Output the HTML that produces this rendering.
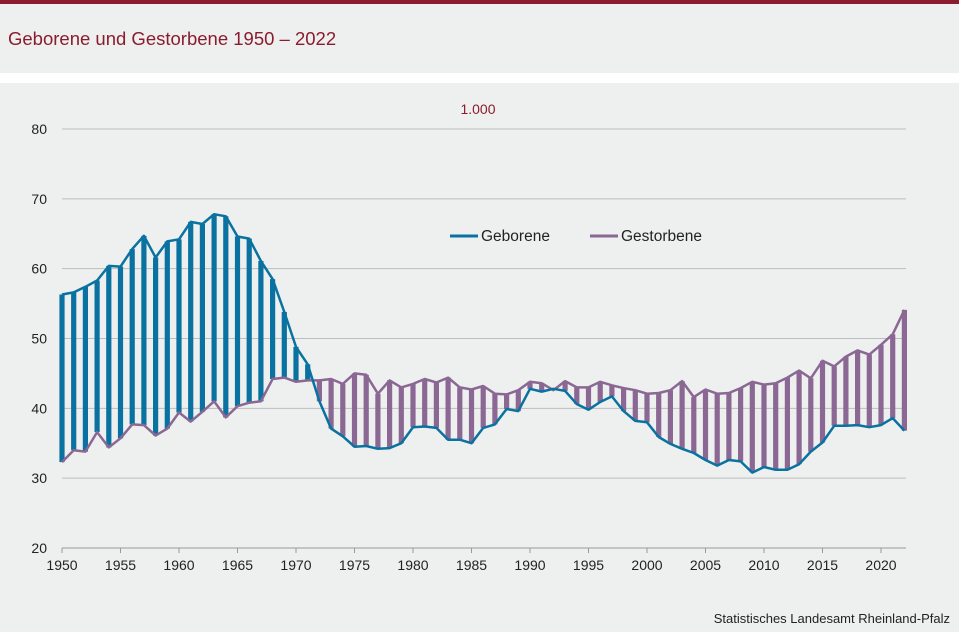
<!DOCTYPE html>
<html><head><meta charset="utf-8"><style>
body{margin:0;width:959px;height:632px;background:#eef0ef;font-family:"Liberation Sans",sans-serif;overflow:hidden;position:relative}
#top{position:absolute;left:0;top:0;width:959px;height:4px;background:#8b1c2e}
#title{position:absolute;left:8px;top:28px;font-size:18.5px;color:#8b1c2e}
#sep{position:absolute;left:0;top:73px;width:959px;height:10px;background:#fff}
#foot{position:absolute;right:9px;top:611px;font-size:13px;color:#222}
svg{position:absolute;left:0;top:0}
</style></head><body>
<div id="top"></div>
<div id="title">Geborene und Gestorbene 1950 – 2022</div>
<div id="sep"></div>
<svg id="c" width="959" height="632"></svg>
<div id="foot">Statistisches Landesamt Rheinland-Pfalz</div>
<script>
var B=[56.3,56.6,57.4,58.3,60.4,60.3,62.8,64.7,61.6,63.9,64.2,66.7,66.4,67.8,67.5,64.6,64.3,61.1,58.5,53.8,48.8,46.3,41,37.1,36,34.5,34.6,34.2,34.3,35,37.3,37.4,37.2,35.5,35.5,35,37.2,37.7,39.9,39.6,42.8,42.4,42.8,42.5,40.6,39.8,40.9,41.7,39.6,38.2,38,35.9,34.9,34.2,33.6,32.6,31.8,32.6,32.4,30.8,31.6,31.2,31.2,32,33.8,35.1,37.5,37.5,37.6,37.3,37.6,38.6,36.8];
var D=[32.3,34,33.8,36.6,34.4,35.7,37.7,37.6,36.1,37.1,39.4,38.1,39.5,41,38.7,40.3,40.8,41,44.2,44.4,43.8,44,44,44.2,43.5,45,44.8,42.1,44,43,43.5,44.2,43.7,44.4,43,42.7,43.2,42.1,42,42.6,43.8,43.6,42.6,43.9,43,43,43.8,43.3,42.9,42.6,42.1,42.2,42.6,43.9,41.6,42.7,42.1,42.2,42.9,43.8,43.4,43.6,44.4,45.4,44.3,46.8,46,47.4,48.3,47.7,49.1,50.6,54.1];
var BL="#0a72a0",PU="#8b6893";
function X(i){return 62+i*11.7}
function Y(v){return 129+(80-v)*6.983}
var s='';
for(var v=20;v<=80;v+=10){s+='<line x1="62" x2="906" y1="'+Y(v)+'" y2="'+Y(v)+'" stroke="#bdbdbd" stroke-width="1"/>';
s+='<text x="47" y="'+(Y(v)+5)+'" font-size="14" text-anchor="end" fill="#222">'+v+'</text>';}
for(var y=1950;y<=2020;y+=5){var x=X(y-1950);s+='<line x1="'+x+'" x2="'+x+'" y1="548" y2="553" stroke="#999"/>';
s+='<text x="'+x+'" y="570" font-size="14" text-anchor="middle" fill="#222">'+y+'</text>';}
for(var i=0;i<B.length;i++){var x=X(i);var hi=Math.max(B[i],D[i]),lo=Math.min(B[i],D[i]);
s+='<rect x="'+(x-2.6)+'" y="'+Y(hi)+'" width="5.2" height="'+(Y(lo)-Y(hi))+'" fill="'+(B[i]>D[i]?BL:PU)+'"/>';}
function pl(a,c){var p=a.map(function(v,i){return X(i).toFixed(1)+','+Y(v).toFixed(1)}).join(' ');return '<polyline points="'+p+'" fill="none" stroke="'+c+'" stroke-width="2.5" stroke-linejoin="round"/>';}
s+=pl(D,PU)+pl(B,BL);
s+='<text x="478" y="114" font-size="14" text-anchor="middle" fill="#8b1c2e">1.000</text>';
s+='<line x1="450" x2="478" y1="236" y2="236" stroke="'+BL+'" stroke-width="3"/><text x="481" y="241" font-size="15.5" fill="#222">Geborene</text>';
s+='<line x1="590" x2="618" y1="236" y2="236" stroke="'+PU+'" stroke-width="3"/><text x="621" y="241" font-size="15.5" fill="#222">Gestorbene</text>';
s+='<line x1="62" x2="906" y1="548" y2="548" stroke="#999"/>';
document.getElementById('c').innerHTML=s;
</script>
</body></html>
